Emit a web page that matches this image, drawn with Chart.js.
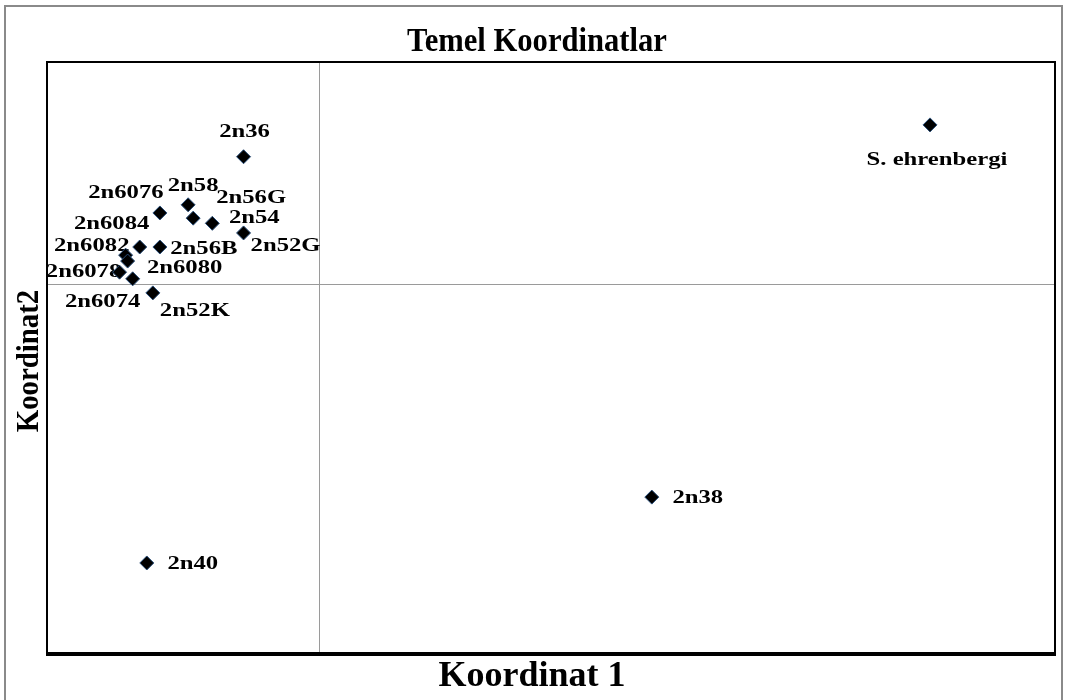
<!DOCTYPE html>
<html>
<head>
<meta charset="utf-8">
<title>Temel Koordinatlar</title>
<script src="https://cdn.jsdelivr.net/npm/chart.js@4/dist/chart.umd.min.js"></script>
<style>
  html, body { margin: 0; padding: 0; background: #ffffff; }
  #wrap { width: 1066px; height: 700px; }
</style>
</head>
<body>
<div id="wrap"><canvas id="pcoa" width="1066" height="700"></canvas></div>
<script>
// Sample names and their principal-coordinate scores
const sampleNames = [
  '2n36', 'S. ehrenbergi', '2n38', '2n40',
  '2n6076', '2n58', '2n56G', '2n54', '2n52G',
  '2n6082', '2n56B', '2n6084', '2n6080', '2n6078', '2n6074', '2n52K'
];
const coord1 = [
  -0.075, 0.606, 0.330, -0.171,
  -0.158, -0.130, -0.125, -0.106, -0.075,
  -0.178, -0.158, -0.192, -0.190, -0.198, -0.185, -0.165
];
const coord2 = [
  0.172, 0.215, -0.288, -0.377,
  0.096, 0.107, 0.089, 0.082, 0.069,
  0.050, 0.050, 0.039, 0.031, 0.016, 0.007, -0.012
];

// Where each name sits relative to its marker (pixels, text centre)
const nameOffsets = [
  [1, -25], [7, 35], [46, 1], [46, 1],
  [-34, -20], [5, -19], [58, -20], [42, -5], [42, 13],
  [-48, -1], [44, 2], [-14, -31], [57, 7], [-36, 0], [-30, 23], [42, 18]
];

const points = coord1.map((x, i) => ({ x: x, y: coord2[i] }));

const SERIF = '"Liberation Serif", "Times New Roman", "DejaVu Serif", serif';

// Draw text stretched horizontally around (cx, cy)
function stretchedText(ctx, text, cx, cy, font, sx, angle) {
  ctx.save();
  ctx.translate(cx, cy);
  if (angle) ctx.rotate(angle);
  ctx.scale(sx, 1);
  ctx.font = font;
  ctx.textAlign = 'center';
  ctx.textBaseline = 'middle';
  ctx.fillStyle = '#000000';
  ctx.fillText(text, 0, 0);
  ctx.restore();
}

const decorations = {
  id: 'decorations',
  beforeDraw(chart) {
    const ctx = chart.ctx;
    ctx.save();
    ctx.fillStyle = '#ffffff';
    ctx.fillRect(0, 0, chart.width, chart.height);
    // outer border of the chart object
    ctx.strokeStyle = '#8a8a8a';
    ctx.lineWidth = 2;
    ctx.strokeRect(5, 6, 1057, 720);
    ctx.restore();
  },
  beforeDatasetsDraw(chart) {
    const ctx = chart.ctx;
    const a = chart.chartArea;
    const xs = chart.scales.x, ys = chart.scales.y;
    ctx.save();
    // zero lines
    ctx.strokeStyle = '#9a9a9a';
    ctx.lineWidth = 1;
    const x0 = Math.round(xs.getPixelForValue(0)) + 0.5;
    const y0 = Math.round(ys.getPixelForValue(0)) + 0.5;
    ctx.beginPath();
    ctx.moveTo(x0, a.top); ctx.lineTo(x0, a.bottom);
    ctx.moveTo(a.left, y0); ctx.lineTo(a.right, y0);
    ctx.stroke();
    // plot frame
    ctx.strokeStyle = '#000000';
    ctx.lineWidth = 2;
    ctx.beginPath();
    ctx.moveTo(a.left, a.bottom); ctx.lineTo(a.left, a.top);
    ctx.lineTo(a.right, a.top); ctx.lineTo(a.right, a.bottom);
    ctx.stroke();
    ctx.lineWidth = 4;
    ctx.beginPath();
    ctx.moveTo(a.left - 1, a.bottom); ctx.lineTo(a.right + 1, a.bottom);
    ctx.stroke();
    // sample names
    const meta = chart.getDatasetMeta(0);
    meta.data.forEach((pt, i) => {
      const off = nameOffsets[i];
      stretchedText(ctx, sampleNames[i], pt.x + off[0], pt.y + off[1],
        'bold 19px ' + SERIF, 1.3, 0);
    });
    ctx.restore();
  },
  afterDraw(chart) {
    const ctx = chart.ctx;
    stretchedText(ctx, 'Temel Koordinatlar', 537, 42, 'bold 34px ' + SERIF, 0.9, 0);
    stretchedText(ctx, 'Koordinat 1', 532, 677, 'bold 36px ' + SERIF, 1.0, 0);
    stretchedText(ctx, 'Koordinat2', 30, 361, 'bold 32px ' + SERIF, 0.9, -Math.PI / 2);
  }
};

new Chart(document.getElementById('pcoa'), {
  type: 'scatter',
  data: {
    datasets: [{
      label: 'Koordinatlar',
      data: points,
      pointStyle: 'rectRot',
      pointRadius: 7,
      pointHoverRadius: 7,
      backgroundColor: '#000000',
      borderColor: '#2a4f7a',
      borderWidth: 1
    }]
  },
  options: {
    responsive: false,
    animation: false,
    devicePixelRatio: 1,
    layout: { padding: { left: 47, top: 62, right: 11, bottom: 46 } },
    plugins: {
      legend: { display: false },
      tooltip: { enabled: false },
      title: { display: false }
    },
    scales: {
      x: { type: 'linear', min: -0.27, max: 0.73, display: false },
      y: { type: 'linear', min: -0.5, max: 0.3, display: false }
    }
  },
  plugins: [decorations]
});
</script>
</body>
</html>
